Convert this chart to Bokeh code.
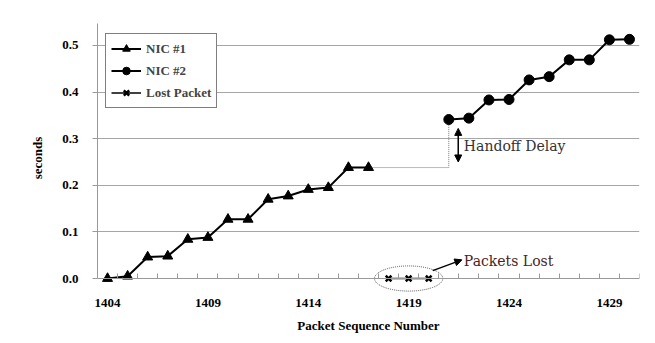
from bokeh.plotting import figure
from bokeh.models import (FixedTicker, Range1d, Arrow, NormalHead, Legend, LegendItem,
                          Label, LinearAxis, CustomJSTickFormatter)
from bokeh.embed import file_html
from bokeh.resources import INLINE

# ---- data ----
nic1_seq = [1404, 1405, 1406, 1407, 1408, 1409, 1410, 1411, 1412, 1413, 1414, 1415, 1416, 1417]
nic1_sec = [0.0, 0.005, 0.046, 0.048, 0.084, 0.088, 0.127, 0.127, 0.170, 0.177, 0.191, 0.195, 0.238, 0.238]
nic2_seq = [1421, 1422, 1423, 1424, 1425, 1426, 1427, 1428, 1429, 1430]
nic2_sec = [0.341, 0.344, 0.383, 0.384, 0.426, 0.433, 0.469, 0.469, 0.512, 0.513]
lost_seq = [1418, 1419, 1420]
lost_sec = [0.0, 0.0, 0.0]
x_tick_labels = [1404, 1409, 1414, 1419, 1424, 1429]
y_ticks = [0.0, 0.1, 0.2, 0.3, 0.4, 0.5]

SERIF = "Liberation Serif"

p = figure(width=652, height=340, output_backend="svg", toolbar_location=None,
           x_range=Range1d(1403.5, 1430.5), y_range=Range1d(-0.03, 0.547),
           x_axis_location=None,
           min_border_left=97, min_border_right=13, min_border_top=23, min_border_bottom=48)
p.outline_line_color = None
p.background_fill_color = "white"

minor = [1403.5 + i for i in range(28)]

# axis line + tick marks at y = 0 (no labels)
ax_line = LinearAxis(ticker=FixedTicker(ticks=[], minor_ticks=minor),
                     fixed_location=0,
                     major_tick_line_color=None, minor_tick_in=5, minor_tick_out=0,
                     minor_tick_line_color="#999999", axis_line_color="#999999",
                     major_label_standoff=0)
p.add_layout(ax_line, "below")

# labels + title at frame bottom
ax_lab = LinearAxis(ticker=FixedTicker(ticks=x_tick_labels),
                    axis_line_color=None, major_tick_line_color=None,
                    minor_tick_line_color=None, major_label_standoff=0,
                    axis_label="Packet Sequence Number", axis_label_standoff=8)
p.add_layout(ax_lab, "below")

p.yaxis.ticker = FixedTicker(ticks=y_ticks)
p.yaxis.bounds = (0, 0.547)
p.yaxis.major_tick_in = 0
p.yaxis.major_tick_out = 5
p.yaxis.major_tick_line_color = "#999999"
p.yaxis.minor_tick_line_color = None
p.yaxis.axis_line_color = "#999999"
p.yaxis.major_label_standoff = 14
p.yaxis.axis_label = "seconds"
p.yaxis.axis_label_standoff = 14
p.yaxis.formatter = CustomJSTickFormatter(code="return tick.toFixed(1);")

for ax in (ax_lab, p.yaxis[0]):
    ax.major_label_text_font = SERIF
    ax.major_label_text_font_style = "bold"
    ax.major_label_text_font_size = "13px"
    ax.major_label_text_color = "black"
    ax.axis_label_text_font = SERIF
    ax.axis_label_text_font_style = "bold"
    ax.axis_label_text_font_size = "13px"
    ax.axis_label_text_color = "black"

p.xgrid.grid_line_color = None
p.ygrid.ticker = FixedTicker(ticks=y_ticks[1:])
p.ygrid.grid_line_color = "#a6a6a6"
p.ygrid.grid_line_width = 1

# dotted connector between NIC #1 and NIC #2
p.line([nic1_seq[-1], nic2_seq[0], nic2_seq[0]], [nic1_sec[-1], nic1_sec[-1], nic2_sec[0]],
       line_color="#777777", line_width=1, line_dash="1 1")

# series
l1 = p.line(nic1_seq, nic1_sec, line_color="black", line_width=2)
s1 = p.scatter(nic1_seq, nic1_sec, marker="triangle", size=10, color="black")
l2 = p.line(nic2_seq, nic2_sec, line_color="black", line_width=2)
s2 = p.scatter(nic2_seq, nic2_sec, marker="circle", size=10, color="black")
l3 = p.line(lost_seq, lost_sec, line_color="black", line_width=1.5)
s3 = p.scatter(lost_seq, lost_sec, marker="x", size=8, line_color="black", line_width=2.5)

# ellipse around lost packets
p.ellipse(x=[lost_seq[1]], y=[0.0], width=3.4, height=0.054, fill_color=None,
          line_color="#555555", line_dash="1 1", line_width=1)

# handoff delay arrow
p.add_layout(Arrow(start=NormalHead(size=7, fill_color="black", line_color="black"),
                   end=NormalHead(size=7, fill_color="black", line_color="black"),
                   x_start=1421.47, y_start=0.25, x_end=1421.47, y_end=0.322,
                   line_color="black", line_width=1.5))
p.add_layout(Label(x=1421.75, y=0.285, text="Handoff Delay", text_font="DejaVu Serif",
                   text_font_size="14px", text_color="#333333", text_baseline="middle"))

# packets lost arrow
p.add_layout(Arrow(end=NormalHead(size=7, fill_color="black", line_color="black"),
                   x_start=1420.2, y_start=0.017, x_end=1421.65, y_end=0.04,
                   line_color="black", line_width=1.5))
p.add_layout(Label(x=1421.75, y=0.038, text="Packets Lost", text_font="DejaVu Serif",
                   text_font_size="14px", text_color="#4a2424", text_baseline="middle"))

legend = Legend(items=[LegendItem(label="NIC #1", renderers=[l1, s1]),
                       LegendItem(label="NIC #2", renderers=[l2, s2]),
                       LegendItem(label="Lost Packet", renderers=[l3, s3])],
                location=(8, 184))
legend.label_text_font = SERIF
legend.label_text_font_style = "bold"
legend.label_text_font_size = "13px"
legend.glyph_width = 30
legend.glyph_height = 19
legend.spacing = 3
legend.padding = 5
legend.margin = 0
legend.label_standoff = 5
legend.border_line_color = "black"
legend.border_line_width = 1
legend.background_fill_alpha = 1
p.add_layout(legend, "center")

open("out.html", "w").write(file_html(p, INLINE))
